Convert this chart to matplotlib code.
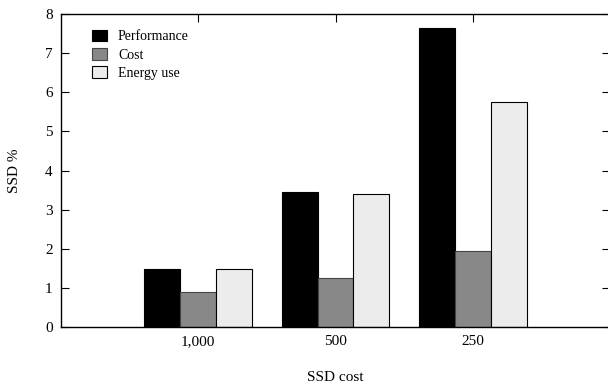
import matplotlib.pyplot as plt
import numpy as np

plt.rcParams['font.family'] = ['Liberation Serif', 'DejaVu Serif']

# data
categories = ['1,000', '500', '250']
performance = [1.47, 3.44, 7.64]
cost = [0.89, 1.26, 1.94]
energy = [1.47, 3.41, 5.74]

fig = plt.figure(figsize=(6.08, 3.83), dpi=100)
ax = fig.add_axes([61 / 608, 56 / 383, 549 / 608, 313 / 383])

x = np.arange(len(categories))
w = 0.262
ax.bar(x - w, performance, w, color='black', edgecolor='black', linewidth=0.8, label='Performance')
ax.bar(x, cost, w, color='#888888', edgecolor='#444444', linewidth=0.8, label='Cost')
ax.bar(x + w, energy, w, color='#ececec', edgecolor='black', linewidth=0.8, label='Energy use')

ax.set_xlim(-1, 3)
ax.set_ylim(0, 8)
ax.set_xticks(x)
ax.set_xticklabels(categories)
ax.set_yticks(range(0, 9))
ax.set_axisbelow(True)
ax.tick_params(direction='in', top=True, right=True, length=6, width=0.8,
               labelsize=11, pad=6)
for s in ax.spines.values():
    s.set_linewidth(1.0)

ax.set_xlabel('SSD cost', fontsize=11, labelpad=16)
ax.set_ylabel('SSD %', fontsize=11, labelpad=17)

ax.legend(loc='upper left', frameon=False, fontsize=10, handlelength=1.1,
          handleheight=0.9, labelspacing=0.35, handletextpad=0.8,
          bbox_to_anchor=(0.033, 0.99))

fig.savefig('out.png', dpi=100)
